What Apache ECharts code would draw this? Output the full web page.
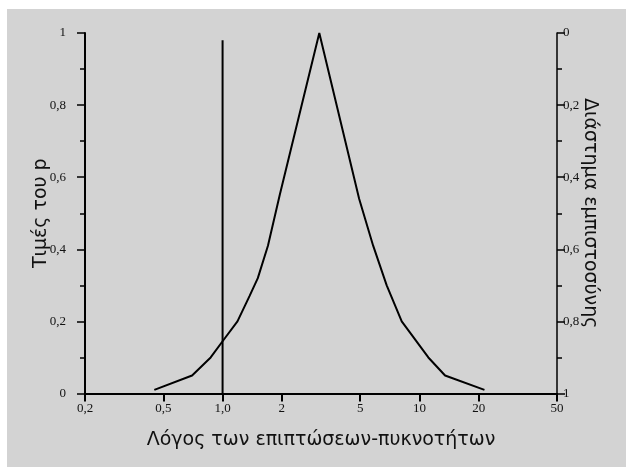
<!DOCTYPE html>
<html><head><meta charset="utf-8">
<script src="https://cdn.jsdelivr.net/npm/echarts@6/dist/echarts.min.js"></script>
<style>html,body{margin:0;padding:0;background:#fff;} #c{position:absolute;left:7px;top:9px;width:619px;height:458px;}</style>
</head><body><div id="c"></div>
<script>
const ratioX = [0.45, 0.70, 0.87, 1.0, 1.19, 1.37, 1.51, 1.70, 1.95, 3.1, 4.94, 5.82, 6.82, 8.13, 11.1, 13.5, 21.4];
const pValues = [0.01, 0.05, 0.10, 0.145, 0.20, 0.27, 0.32, 0.41, 0.55, 1.0, 0.54, 0.41, 0.30, 0.20, 0.10, 0.05, 0.01];
const refLineX = [1, 1];
const refLineY = [0, 0.98];
const xTickValues = [0.2, 0.5, 1, 2, 5, 10, 20, 50];
const xTickLabels = ['0,2', '0,5', '1,0', '2', '5', '10', '20', '50'];
const yTickValues = [0, 0.2, 0.4, 0.6, 0.8, 1];
const yTickLabels = ['0', '0,2', '0,4', '0,6', '0,8', '1'];
const xTitle = 'Λόγος των επιπτώσεων-πυκνοτήτων';
const yLeftTitle = 'Τιμές του p';
const yRightTitle = 'Διάστημα εμπιστοσύνης';

const labelFont = { fontFamily: 'Liberation Serif', fontSize: 13, color: '#111' };
const titleFont = { fontFamily: 'DejaVu Sans', fontSize: 19, color: '#111' };
const axisLine = { show: true, lineStyle: { color: '#000', width: 2 } };

function yLabel(v) {
  const i = yTickValues.findIndex(t => Math.abs(t - v) < 1e-9);
  return i >= 0 ? yTickLabels[i] : '';
}

const chart = echarts.init(document.getElementById('c'));
chart.setOption({
  backgroundColor: '#d3d3d3',
  animation: false,
  grid: { left: 78, right: 69, top: 24, bottom: 73.5, containLabel: false },
  xAxis: {
    type: 'log', logBase: 10, min: 0.2, max: 50,
    axisLine: axisLine,
    axisTick: { show: true, length: 8, inside: false, customValues: xTickValues, lineStyle: { color: '#000', width: 2 } },
    axisLabel: { show: true, margin: 9, customValues: xTickValues,
      formatter: v => { const i = xTickValues.findIndex(t => Math.abs(t - v) < 1e-6); return i >= 0 ? xTickLabels[i] : ''; },
      ...labelFont },
    splitLine: { show: false },
    name: xTitle, nameLocation: 'middle', nameGap: 37, nameMoveOverlap: false, nameTextStyle: titleFont
  },
  yAxis: [
    {
      type: 'value', min: 0, max: 1, interval: 0.2, position: 'left',
      axisLine: axisLine,
      axisTick: { show: true, length: 8, lineStyle: { color: '#000', width: 1.5 } },
      minorTick: { show: true, splitNumber: 2, length: 5, lineStyle: { color: '#000', width: 1.5 } },
      axisLabel: { margin: 19, formatter: yLabel, ...labelFont },
      splitLine: { show: false }, minorSplitLine: { show: false },
      name: yLeftTitle, nameLocation: 'middle', nameGap: 34, nameRotate: 90, nameMoveOverlap: false, nameTextStyle: titleFont
    },
    {
      type: 'value', min: 0, max: 1, interval: 0.2, position: 'right', inverse: true,
      axisLine: { show: true, lineStyle: { color: '#000', width: 1.5 } },
      axisTick: { show: true, length: 8, lineStyle: { color: '#000', width: 1.5 } },
      minorTick: { show: true, splitNumber: 2, length: 5, lineStyle: { color: '#000', width: 1.5 } },
      axisLabel: { margin: 6, formatter: yLabel, ...labelFont },
      splitLine: { show: false }, minorSplitLine: { show: false },
      name: yRightTitle, nameLocation: 'middle', nameGap: 23, nameRotate: -90, nameMoveOverlap: false, nameTextStyle: titleFont
    }
  ],
  series: [
    {
      type: 'line', yAxisIndex: 0, symbol: 'none', smooth: false,
      lineStyle: { color: '#000', width: 2 },
      data: ratioX.map((x, i) => [x, pValues[i]])
    },
    {
      type: 'line', yAxisIndex: 0, symbol: 'none',
      lineStyle: { color: '#000', width: 2 },
      data: refLineX.map((x, i) => [x, refLineY[i]])
    }
  ]
});
</script></body></html>
